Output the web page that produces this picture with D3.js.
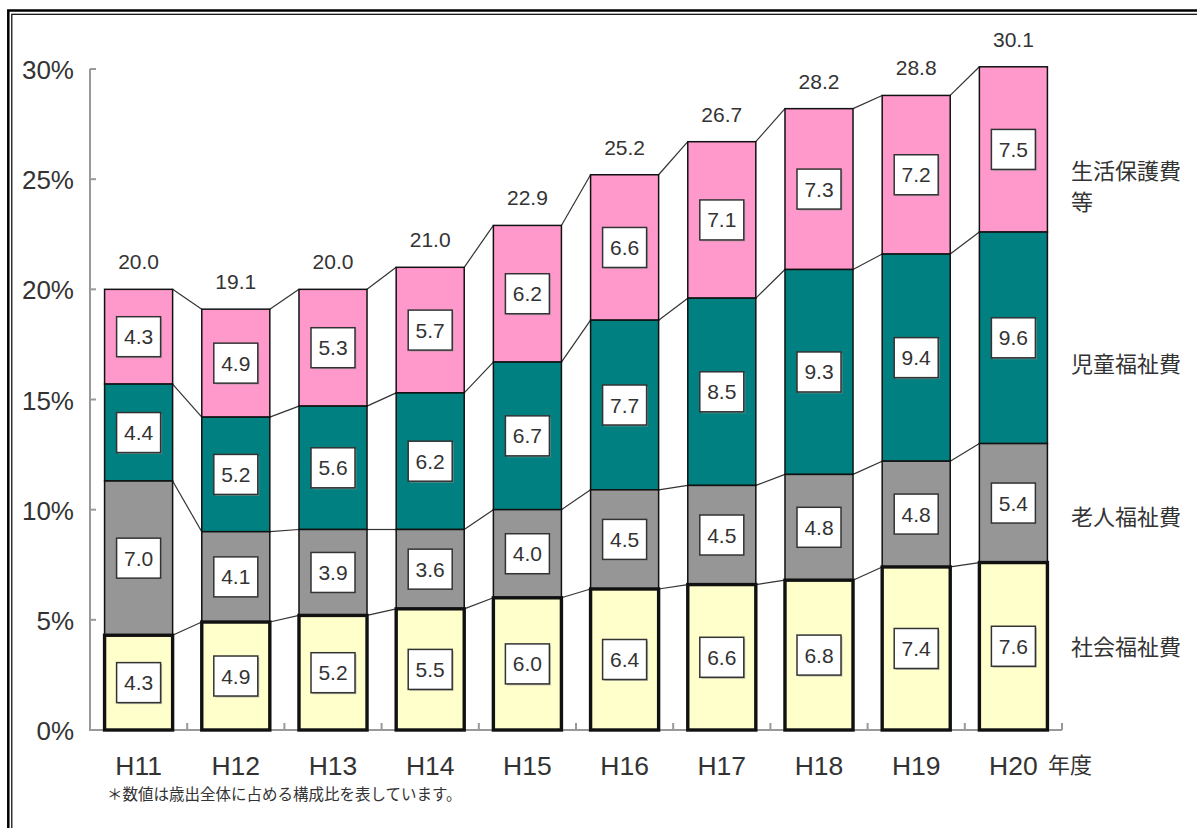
<!DOCTYPE html>
<html>
<head>
<meta charset="utf-8">
<script src="https://cdn.jsdelivr.net/npm/d3@7/dist/d3.min.js"></script>
<style>
html,body{margin:0;padding:0;background:#fff;}
svg{display:block;}
</style>
</head>
<body>
<svg id="chart" width="1197" height="828"></svg>
<script>
const categories = ["H11","H12","H13","H14","H15","H16","H17","H18","H19","H20"];
const seriesNames = ["社会福祉費","老人福祉費","児童福祉費","生活保護費等"];
const shakai   = [4.3, 4.9, 5.2, 5.5, 6.0, 6.4, 6.6, 6.8, 7.4, 7.6];
const rojin    = [7.0, 4.1, 3.9, 3.6, 4.0, 4.5, 4.5, 4.8, 4.8, 5.4];
const jido     = [4.4, 5.2, 5.6, 6.2, 6.7, 7.7, 8.5, 9.3, 9.4, 9.6];
const seikatsu = [4.3, 4.9, 5.3, 5.7, 6.2, 6.6, 7.1, 7.3, 7.2, 7.5];
const totals   = [20.0, 19.1, 20.0, 21.0, 22.9, 25.2, 26.7, 28.2, 28.8, 30.1];
const yTicks   = [0, 5, 10, 15, 20, 25, 30];
const colors   = ["#FFFFCC", "#969696", "#008080", "#FF99CC"];

const svg = d3.select("#chart");
const FONT = "'Liberation Sans', Arial, sans-serif";
const JFONT = "'Noto Sans CJK JP', 'Noto Sans', sans-serif";
const TXT = "#333";

// frame (double border)
svg.append("rect").attr("x",8.3).attr("y",10.5).attr("width",1300).attr("height",1000)
  .attr("fill","none").attr("stroke","#000").attr("stroke-width",2.5);
svg.append("rect").attr("x",11.8).attr("y",14.3).attr("width",1300).attr("height",1000)
  .attr("fill","none").attr("stroke","#000").attr("stroke-width",1.2);

const x = d3.scaleBand().domain(categories).range([90, 1062]).paddingInner(0.3).paddingOuter(0.15);
const y = d3.scaleLinear().domain([0, 30]).range([730, 69]);

const rows = categories.map((c, i) => ({cat: c, s0: shakai[i], s1: rojin[i], s2: jido[i], s3: seikatsu[i]}));
const stack = d3.stack().keys(["s0","s1","s2","s3"]);
const layers = stack(rows);

// axes
const axisCol = "#999";
svg.append("line").attr("x1",90).attr("x2",90).attr("y1",y(30)).attr("y2",y(0))
  .attr("stroke",axisCol).attr("stroke-width",2);
svg.selectAll(".ytick").data(yTicks).join("line")
  .attr("x1",90).attr("x2",96).attr("y1",d=>y(d)).attr("y2",d=>y(d))
  .attr("stroke",axisCol).attr("stroke-width",2);
svg.selectAll(".ylab").data(yTicks).join("text")
  .attr("x",74).attr("y",d=>y(d)+10).attr("text-anchor","end")
  .attr("font-family",FONT).attr("font-size",26).attr("fill",TXT)
  .text(d=>d+"%");

svg.append("line").attr("x1",89).attr("x2",1062).attr("y1",y(0)).attr("y2",y(0))
  .attr("stroke",axisCol).attr("stroke-width",2);
const bounds = d3.range(1, categories.length + 1).map(i => x.range()[0] + i * x.step());
svg.selectAll(".xtick").data(bounds).join("line")
  .attr("x1",d=>d).attr("x2",d=>d).attr("y1",y(0)).attr("y2",y(0)-7)
  .attr("stroke",axisCol).attr("stroke-width",2);
svg.selectAll(".xlab").data(categories).join("text")
  .attr("x",d=>x(d)+x.bandwidth()/2).attr("y",775).attr("text-anchor","middle")
  .attr("font-family",FONT).attr("font-size",26.5).attr("fill",TXT).text(d=>d);
svg.append("text").attr("x",1048).attr("y",773).attr("font-family",JFONT)
  .attr("font-size",22).attr("fill",TXT).text("年度");

// connectors
layers.forEach(layer => {
  for (let i = 0; i < layer.length - 1; i++) {
    const a = layer[i], b = layer[i+1];
    svg.append("line")
      .attr("x1", x(categories[i]) + x.bandwidth()).attr("y1", y(a[1]))
      .attr("x2", x(categories[i+1])).attr("y2", y(b[1]))
      .attr("stroke","#333").attr("stroke-width",1.2);
  }
});

// bars (draw upper layers first, then thick bottom layer)
[3,2,1,0].forEach(k => {
  const layer = layers[k];
  svg.append("g").selectAll("rect").data(layer).join("rect")
    .attr("x", d => x(d.data.cat))
    .attr("width", x.bandwidth())
    .attr("y", d => y(d[1]))
    .attr("height", d => y(d[0]) - y(d[1]))
    .attr("fill", colors[k])
    .attr("stroke", "#111")
    .attr("stroke-width", k === 0 ? 3.4 : 1.5);
});

// value boxes
layers.forEach(layer => {
  const g = svg.append("g");
  layer.forEach(d => {
    const cx = x(d.data.cat) + x.bandwidth()/2;
    const cy = (y(d[0]) + y(d[1])) / 2;
    const val = d[1] - d[0];
    g.append("rect").attr("x",cx-22+1.5).attr("y",cy-20+1.5).attr("width",44).attr("height",40)
      .attr("fill","#999").attr("opacity",0.6);
    g.append("rect").attr("x",cx-22).attr("y",cy-20).attr("width",44).attr("height",40)
      .attr("fill","#fff").attr("stroke","#333").attr("stroke-width",1.5);
    g.append("text").attr("x",cx).attr("y",cy+7.5).attr("text-anchor","middle")
      .attr("font-family",FONT).attr("font-size",21).attr("fill",TXT)
      .text(d3.format(".1f")(val));
  });
});

// totals
svg.selectAll(".tot").data(totals).join("text")
  .attr("x",(d,i)=>x(categories[i])+x.bandwidth()/2)
  .attr("y",d=>y(d)-20).attr("text-anchor","middle")
  .attr("font-family",FONT).attr("font-size",21).attr("fill",TXT)
  .text(d=>d3.format(".1f")(d));

// legend labels (right side)
const legendLines = [
  {t:"生活保護費", yy:179},
  {t:"等", yy:210},
  {t:"児童福祉費", yy:372},
  {t:"老人福祉費", yy:525},
  {t:"社会福祉費", yy:655}
];
svg.selectAll(".leg").data(legendLines).join("text")
  .attr("x",1071).attr("y",d=>d.yy).attr("font-family",JFONT)
  .attr("font-size",22).attr("fill",TXT).text(d=>d.t);

// footnote
svg.append("text").attr("x",107).attr("y",800).attr("font-family",JFONT)
  .attr("font-size",15.5).attr("fill",TXT).text("＊数値は歳出全体に占める構成比を表しています。");
</script>
</body>
</html>
